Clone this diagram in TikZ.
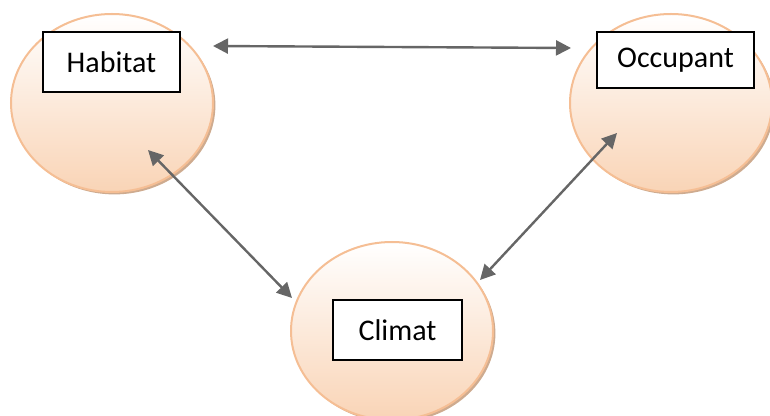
\documentclass[tikz,border=0pt]{standalone}
\usepackage{fontspec}
\setmainfont{Carlito}
\usepackage{xcolor}
\usepackage{tikz}
\usetikzlibrary{shapes.geometric,arrows.meta,shadows}

\definecolor{peachline}{HTML}{F5BE94}
\definecolor{peachfill}{HTML}{F9D4B6}
\definecolor{peachshade}{HTML}{C9A283}
\definecolor{arrgray}{HTML}{666666}

\begin{document}
\begin{tikzpicture}[x=0.5pt, y=-0.5pt,
  circ/.style={ellipse, draw=peachline, line width=1pt,
               top color=white, bottom color=peachfill,
               minimum width=101pt, minimum height=89pt,
               drop shadow={shadow xshift=1.2pt, shadow yshift=-1.2pt,
                            fill=peachshade, opacity=0.9}},
  lbl/.style={rectangle, draw=black, line width=0.9pt, fill=white,
              font=\fontsize{15}{17}\selectfont, inner sep=0pt, text centered},
  arr/.style={{Triangle[length=7.5pt,width=7.5pt]}-{Triangle[length=7.5pt,width=7.5pt]},
              draw=arrgray, line width=1.2pt}
]
\useasboundingbox (0,0) rectangle (770,416);

\node[circ] (habitat)  at (112,103) {};
\node[circ] (occupant) at (671,103) {};
\node[circ] (climat)   at (392,331) {};

\node[lbl, minimum width=68.5pt, minimum height=30pt] (habitatlbl)  at (111.5,62) {Habitat};
\node[lbl, minimum width=78.5pt, minimum height=28pt] (occupantlbl) at (675.5,60) {Occupant};
\node[lbl, minimum width=64.5pt, minimum height=30pt] (climatlbl)   at (397.5,330) {Climat};

% arrow ends
\coordinate (hab-e)  at (213,46);
\coordinate (occ-w)  at (571,48);
\coordinate (hab-s)  at (148,150);
\coordinate (cli-nw) at (292,298);
\coordinate (occ-sw) at (617,133);
\coordinate (cli-ne) at (480,280);

\draw[arr] (hab-e) -- (occ-w);
\draw[arr] (hab-s) -- (cli-nw);
\draw[arr] (occ-sw) -- (cli-ne);
\end{tikzpicture}
\end{document}
